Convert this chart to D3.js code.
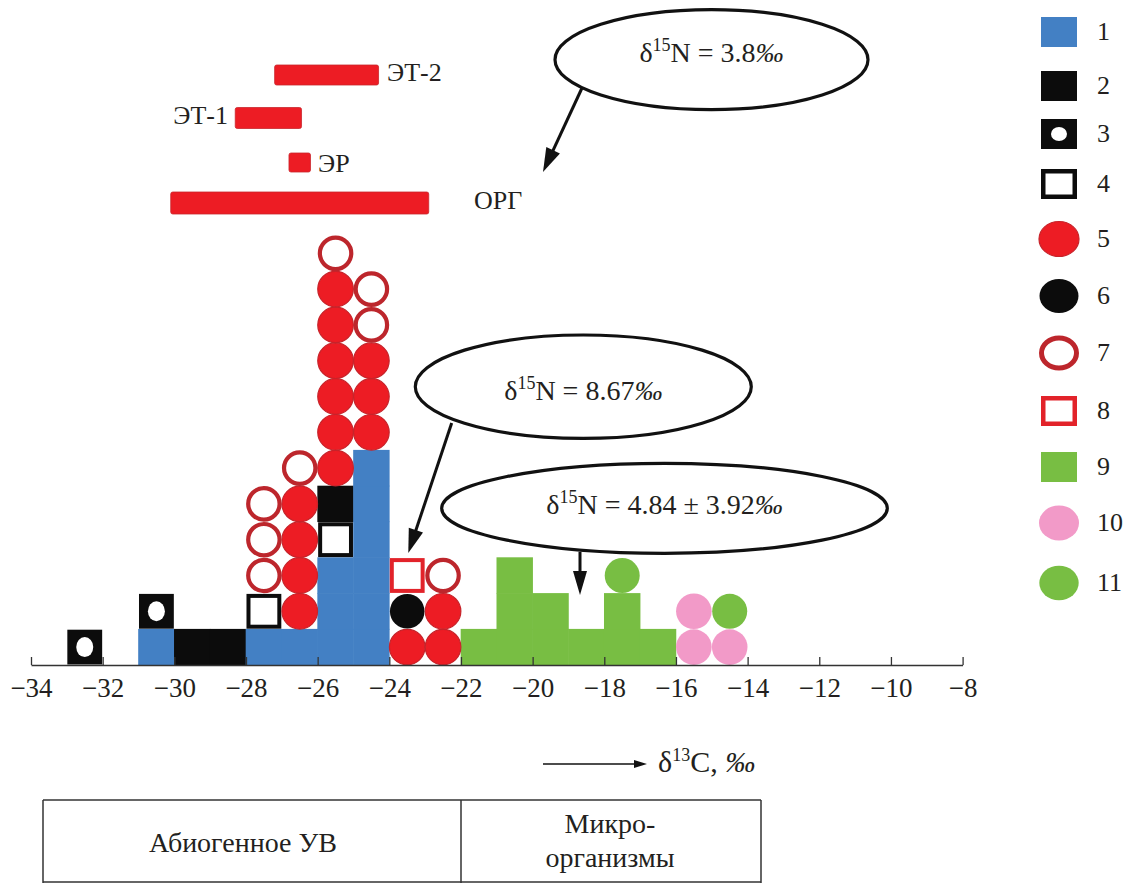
<!DOCTYPE html>
<html><head><meta charset="utf-8">
<script src="https://cdn.jsdelivr.net/npm/d3@7"></script>
<style>
body{margin:0;background:#fff}
svg{display:block}
svg text{font-family:"Liberation Serif","Times New Roman",Times,serif;fill:#231f20}
</style>
</head><body>
<svg id="chart" width="1131" height="883"></svg>
<script>
// ---------- data ----------
const tickValues = [-34,-32,-30,-28,-26,-24,-22,-20,-18,-16,-14,-12,-10,-8];
// bin centres (δ13C, ‰) and stacked sample types from bottom to top
const binCenters = [-32.5,-30.5,-29.5,-28.5,-27.5,-26.5,-25.5,-24.5,-23.5,-22.5,-21.5,-20.5,-19.5,-18.5,-17.5,-16.5,-15.5,-14.5];
const binStacks = [
  [3],
  [1,3],
  [2],
  [2],
  [1,4,7,7,7],
  [1,5,5,5,5,7],
  [1,1,1,4,2,5,5,5,5,5,5,7],
  [1,1,1,1,1,1,5,5,5,7,7],
  [5,6,8],
  [5,5,7],
  [9],
  [9,9,9],
  [9,9],
  [9],
  [9,9,11],
  [9],
  [10,10],
  [10,11]
];
const legendKeys = [1,2,3,4,5,6,7,8,9,10,11];
const legendLabels = ["1","2","3","4","5","6","7","8","9","10","11"];
const rangeNames = ["ЭТ-2","ЭТ-1","ЭР","ОРГ"];
const rangeFrom = [-27.2,-28.3,-26.8,-30.1];
const rangeTo = [-24.3,-26.45,-26.2,-22.9];
const calloutValues = ["3.8","8.67","4.84 ± 3.92"];
const axisTitle = ["δ","13","C, ","‰"];
const zoneNames = ["Абиогенное УВ","Микро-","организмы"];

// ---------- layout ----------
const FONT = "'Liberation Serif','Times New Roman',Times,serif";
const svg = d3.select("#chart");
const x = d3.scaleLinear().domain([-34,-8]).range([31,962.6]);
const y0 = 665, unit = 35.8;
const y = d3.scaleLinear().domain([0,12]).range([y0, y0-12*unit]);
const cw = x(-33)-x(-34);

const C = {
  blue:"#4380c4", black:"#0c0c0c", red:"#ed1c24", redEdge:"#c7232a",
  hollowRed:"#bd262c", sqRed:"#e2232a", green:"#78be43", pink:"#f29ac8"
};

// flatten cells
const cells = [];
binCenters.forEach((c,i)=>binStacks[i].forEach((t,l)=>cells.push({c,l,t})));

const gCells = svg.append("g");
const fillOf = {1:C.blue,2:C.black,9:C.green};
gCells.selectAll("rect.bar").data(cells.filter(d=>fillOf[d.t])).join("rect")
  .attr("class","bar")
  .attr("x",d=>x(d.c-0.5)-0.3).attr("width",d=>x(d.c+0.5)-x(d.c-0.5)+0.6)
  .attr("y",d=>y(d.l+1)-0.3).attr("height",d=>y(d.l)-y(d.l+1)+0.6)
  .attr("fill",d=>fillOf[d.t]);

function marker(g,t,cx,cy,opt){
  const w = opt.w, h = opt.h, rx = opt.rx, ry = opt.ry;
  if(t===1||t===2||t===9){
    g.append("rect").attr("x",cx-w/2).attr("y",cy-h/2).attr("width",w).attr("height",h).attr("fill",fillOf[t]);
  } else if(t===3){
    g.append("rect").attr("x",cx-w/2).attr("y",cy-h/2).attr("width",w).attr("height",h).attr("fill",C.black);
    g.append("ellipse").attr("cx",cx).attr("cy",cy).attr("rx",opt.irx).attr("ry",opt.iry).attr("fill","#fff");
  } else if(t===4||t===8){
    const sw = opt.sw;
    g.append("rect").attr("x",cx-w/2+sw/2).attr("y",cy-h/2+sw/2).attr("width",w-sw).attr("height",h-sw)
      .attr("fill","#fff").attr("stroke",t===4?C.black:C.sqRed).attr("stroke-width",sw);
  } else if(t===5){
    g.append("ellipse").attr("cx",cx).attr("cy",cy).attr("rx",rx).attr("ry",ry).attr("fill",C.red).attr("stroke",C.redEdge).attr("stroke-width",1.2);
  } else if(t===6){
    g.append("ellipse").attr("cx",cx).attr("cy",cy).attr("rx",rx-0.5).attr("ry",ry-0.5).attr("fill",C.black);
  } else if(t===7){
    const sw = opt.csw;
    g.append("ellipse").attr("cx",cx).attr("cy",cy).attr("rx",rx-sw/2).attr("ry",ry-sw/2).attr("fill","#fff").attr("stroke",C.hollowRed).attr("stroke-width",sw);
  } else if(t===10){
    g.append("ellipse").attr("cx",cx).attr("cy",cy).attr("rx",rx).attr("ry",ry).attr("fill",C.pink);
  } else if(t===11){
    g.append("ellipse").attr("cx",cx).attr("cy",cy).attr("rx",rx-0.3).attr("ry",ry-0.3).attr("fill",C.green);
  }
}
const gMarks = svg.append("g");
cells.filter(d=>!fillOf[d.t]).forEach(d=>{
  marker(gMarks,d.t,x(d.c),(y(d.l)+y(d.l+1))/2,{w:cw-1,h:unit-1,rx:17.8,ry:17.8,irx:8.5,iry:10,sw:4,csw:4.2});
});

// ---------- axis ----------
const axis = d3.axisBottom(x).tickValues(tickValues).tickSizeInner(-8).tickSizeOuter(0).tickFormat(d3.format("d"));
const gAx = svg.append("g").attr("transform",`translate(0,${y0})`).call(axis).attr("font-family",FONT);
gAx.select(".domain").attr("stroke","#333").attr("stroke-width",1.3);
gAx.selectAll(".tick line").attr("stroke","#333").attr("stroke-width",1.3);
gAx.selectAll(".tick text").attr("y",32).attr("dy",0)
  .style("font-size","27px").attr("fill","#231f20");

// ---------- range bars ----------
const rangeY = [75,118,162.5,203];
const rangeH = [20,21,19,22];
const gR = svg.append("g");
rangeNames.forEach((n,i)=>{
  gR.append("rect").attr("x",x(rangeFrom[i])).attr("y",rangeY[i]-rangeH[i]/2)
    .attr("width",x(rangeTo[i])-x(rangeFrom[i])).attr("height",rangeH[i]).attr("rx",2)
    .attr("fill",C.red).attr("stroke","#c9262c").attr("stroke-width",0.8);
});
const rangeLabelPos = [[387,81,"start"],[228,124,"end"],[318,172,"start"],[474,209,"start"]];
rangeNames.forEach((n,i)=>{
  gR.append("text").attr("x",rangeLabelPos[i][0]).attr("y",rangeLabelPos[i][1])
    .attr("text-anchor",rangeLabelPos[i][2]).style("font-size","26px").text(n);
});

// ---------- callouts ----------
const ell = [[711.5,59.7,156.5,50],[583.3,386.7,168,51.7],[664.5,508.3,222.8,45]];
const txtY = [62,400,514];
const gC = svg.append("g");
ell.forEach((e,i)=>{
  gC.append("ellipse").attr("cx",e[0]).attr("cy",e[1]).attr("rx",e[2]).attr("ry",e[3])
    .attr("fill","none").attr("stroke","#111").attr("stroke-width",3.2);
  const t = gC.append("text").attr("x",e[0]).attr("y",txtY[i]).attr("text-anchor","middle").style("font-size","28px");
  t.append("tspan").text("δ");
  t.append("tspan").attr("dy",-11).style("font-size","18px").text("15");
  t.append("tspan").attr("dy",11).text("N = "+calloutValues[i]);
  t.append("tspan").style("font-style","italic").text("‰");
});
function arrow(g,x1,y1,x2,y2,len,hw,sw){
  const a = Math.atan2(y2-y1,x2-x1);
  const bx = x2-len*Math.cos(a), by = y2-len*Math.sin(a);
  g.append("line").attr("x1",x1).attr("y1",y1).attr("x2",bx+0.3*len*Math.cos(a)).attr("y2",by+0.3*len*Math.sin(a))
    .attr("stroke","#111").attr("stroke-width",sw);
  const px = -Math.sin(a)*hw, py = Math.cos(a)*hw;
  g.append("path").attr("d",`M${x2},${y2}L${bx+px},${by+py}L${bx-px},${by-py}Z`).attr("fill","#111");
}
arrow(gC,582,88,543,172,24,7.5,3);
arrow(gC,451.7,423,408.3,553,24,7.5,3);
arrow(gC,580,552,580,595,24,7,3);

// ---------- axis title ----------
arrow(svg,543,764,647,764,13,4,1.6);
const at = svg.append("text").attr("x",658).attr("y",772).style("font-size","30px");
at.append("tspan").text(axisTitle[0]);
at.append("tspan").attr("dy",-11).style("font-size","18px").text(axisTitle[1]);
at.append("tspan").attr("dy",11).text(axisTitle[2]);
at.append("tspan").style("font-style","italic").text(axisTitle[3]);

// ---------- zone table ----------
const gT = svg.append("g").attr("stroke","#333").attr("stroke-width",1.5);
gT.append("line").attr("x1",43).attr("x2",761).attr("y1",800).attr("y2",800);
gT.append("line").attr("x1",43).attr("x2",761).attr("y1",882).attr("y2",882);
[43,461,761].forEach(v=>gT.append("line").attr("x1",v).attr("x2",v).attr("y1",800).attr("y2",883));
svg.append("text").attr("x",243).attr("y",852).attr("text-anchor","middle").style("font-size","28px").text(zoneNames[0]);
svg.append("text").attr("x",610).attr("y",833).attr("text-anchor","middle").style("font-size","28px").text(zoneNames[1]);
svg.append("text").attr("x",610).attr("y",867).attr("text-anchor","middle").style("font-size","28px").text(zoneNames[2]);

// ---------- legend ----------
const legY = [32,86,134,184,239,296,353,411,467,523,583];
const gL = svg.append("g");
legendKeys.forEach((k,i)=>{
  marker(gL,k,1059,legY[i],{w:36,h:30,rx:20,ry:17.5,irx:8,iry:7,sw:4.5,csw:5});
  gL.append("text").attr("x",1097).attr("y",legY[i]+8).style("font-size","26px").text(legendLabels[i]);
});

svg.selectAll("text").attr("font-family",FONT).style("font-family",FONT);
</script>
</body></html>
